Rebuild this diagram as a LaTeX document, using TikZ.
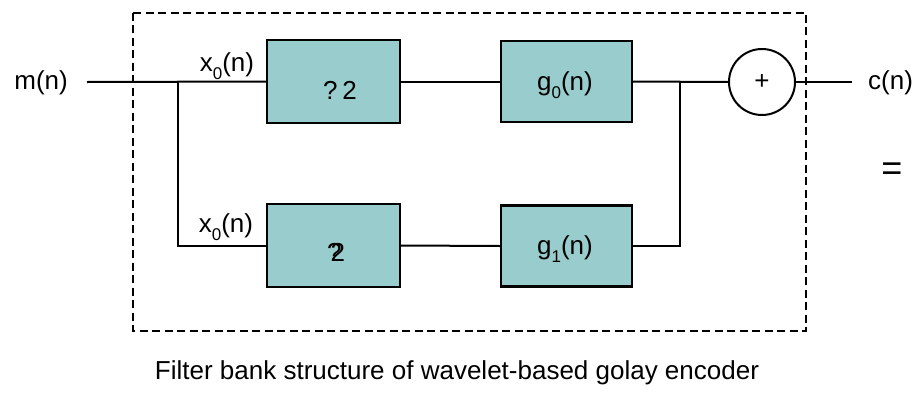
\documentclass[tikz,border=0pt]{standalone}
\usepackage{fontspec}
\setmainfont{Liberation Sans}
\definecolor{boxfill}{HTML}{99CCCC}
% lowered, smaller index digit
\newcommand{\idx}[1]{\raisebox{-0.32em}{\fontsize{17}{17}\selectfont #1}}
\begin{document}
\begin{tikzpicture}[x=1pt,y=-1pt,
  wire/.style={line width=2pt},
  blk/.style={draw,line width=2.4pt,fill=boxfill,minimum width=133pt,minimum height=83pt,inner sep=0pt},
  lbl/.style={font=\fontsize{26}{28}\selectfont,inner sep=0pt}]
\useasboundingbox (0,0) rectangle (914,402);
% enclosing dashed frame
\draw[line width=2pt,dash pattern=on 8pt off 4.5pt] (133,12.5) rectangle (806,331);
% blocks
\node[blk] (d0) at (333.5,81.5) {};
\node[lbl] at (340,90) {?\kern0.18em 2};
\node[blk] (d1) at (333.5,245.5) {};
\node[lbl] at (336,252) {?\kern-0.42em 2};
\node[blk,minimum width=131pt,minimum height=81pt] (g0) at (566.5,81.5) {};
\node[lbl] at (565,85) {g\idx{0}(n)};
\node[blk,minimum width=131pt,minimum height=81pt] (g1) at (566.5,246) {};
\node[lbl] at (565,249) {g\idx{1}(n)};
\node[draw,circle,line width=2pt,minimum size=66pt,inner sep=0pt] (sum) at (762,82) {};
\node[font=\fontsize{26}{28}\selectfont] at (sum.center) {+};
% labels
\node[lbl,anchor=east] (min) at (68,83) {m(n)};
\node[lbl,anchor=west] (cout) at (868,83) {c(n)};
\node[font=\fontsize{36}{38}\selectfont,inner sep=0pt] (eq) at (892,172) {=};
\node[lbl] (xa) at (227,66) {x\idx{0}(n)};
\node[lbl] (xb) at (226,227) {x\idx{0}(n)};
\node[lbl] (cap) at (457,373) {Filter bank structure of wavelet-based golay encoder};
% wiring
\coordinate (in) at (87,82);
\coordinate (split) at (178,82);
\coordinate (join) at (680,82);
\coordinate (out) at (852,82);
\draw[wire] (in) -- (d0.west);
\draw[wire] (split) |- (d1.west);
\draw[wire] (d0.east) -- (g0.west);
\draw[wire] (d1.east) -- (g1.west);
\draw[wire] (g0.east) -- (sum.west);
\draw[wire] (g1.east) -| (join);
\draw[wire] (sum.east) -- (out);
\end{tikzpicture}
\end{document}
